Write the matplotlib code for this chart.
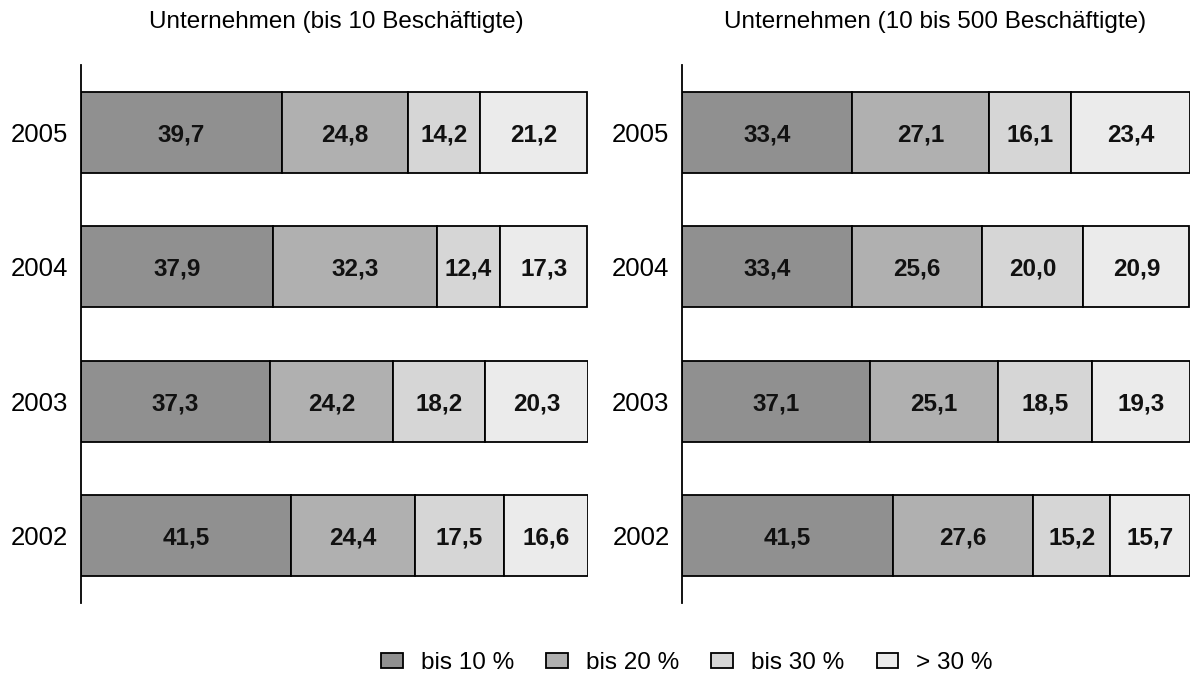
import matplotlib.pyplot as plt
from matplotlib.patches import Patch

plt.rcParams['font.family'] = ['Liberation Sans', 'DejaVu Sans']

years = ['2002', '2003', '2004', '2005']
categories = ['bis 10 %', 'bis 20 %', 'bis 30 %', '> 30 %']
colors = ['#909090', '#b0b0b0', '#d6d6d6', '#ebebeb']

# shares per year (2002..2005) for each category
small_firms = [
    [41.5, 37.3, 37.9, 39.7],
    [24.4, 24.2, 32.3, 24.8],
    [17.5, 18.2, 12.4, 14.2],
    [16.6, 20.3, 17.3, 21.2],
]
medium_firms = [
    [41.5, 37.1, 33.4, 33.4],
    [27.6, 25.1, 25.6, 27.1],
    [15.2, 18.5, 20.0, 16.1],
    [15.7, 19.3, 20.9, 23.4],
]

titles = ['Unternehmen (bis 10 Beschäftigte)', 'Unternehmen (10 bis 500 Beschäftigte)']

fig = plt.figure(figsize=(11.92, 6.78), dpi=100)
ax1 = fig.add_axes([81 / 1192, 75 / 678, 507 / 1192, 538 / 678])
ax2 = fig.add_axes([682 / 1192, 75 / 678, 508 / 1192, 538 / 678])

for ax, data, title, tx in zip([ax1, ax2], [small_firms, medium_firms], titles, [336, 935]):
    y = list(range(len(years)))
    left = [0] * len(years)
    for vals, col in zip(data, colors):
        bars = ax.barh(y, vals, left=left, height=0.6, color=col,
                       edgecolor='black', linewidth=1.3)
        for b, v in zip(bars, vals):
            ax.text(b.get_x() + b.get_width() / 2, b.get_y() + b.get_height() / 2,
                    f'{v:.1f}'.replace('.', ','), ha='center', va='center_baseline',
                    fontsize=17.5, fontweight='bold', color='#111111')
        left = [l + v for l, v in zip(left, vals)]
    ax.set_xlim(0, 100)
    ax.set_ylim(-0.5, 3.5)
    ax.set_yticks(y)
    ax.set_yticklabels(years, fontsize=18.5)
    ax.tick_params(axis='y', length=0, pad=9)
    ax.set_xticks([])
    for s in ['top', 'right', 'bottom']:
        ax.spines[s].set_visible(False)
    ax.spines['left'].set_linewidth(1.3)
    fig.text(tx / 1192, 1 - 22 / 678, title, ha='center', va='center', fontsize=17.5)

handles = [Patch(facecolor=c, edgecolor='black', linewidth=1.3, label=l)
           for c, l in zip(colors, categories)]
fig.legend(handles=handles, loc='center', bbox_to_anchor=(687 / 1192, 1 - 663 / 678),
           ncol=4, frameon=False, fontsize=17.5, handlelength=0.9, handleheight=0.6,
           handletextpad=0.74, columnspacing=1.32)

fig.savefig('out.png', dpi=100)
